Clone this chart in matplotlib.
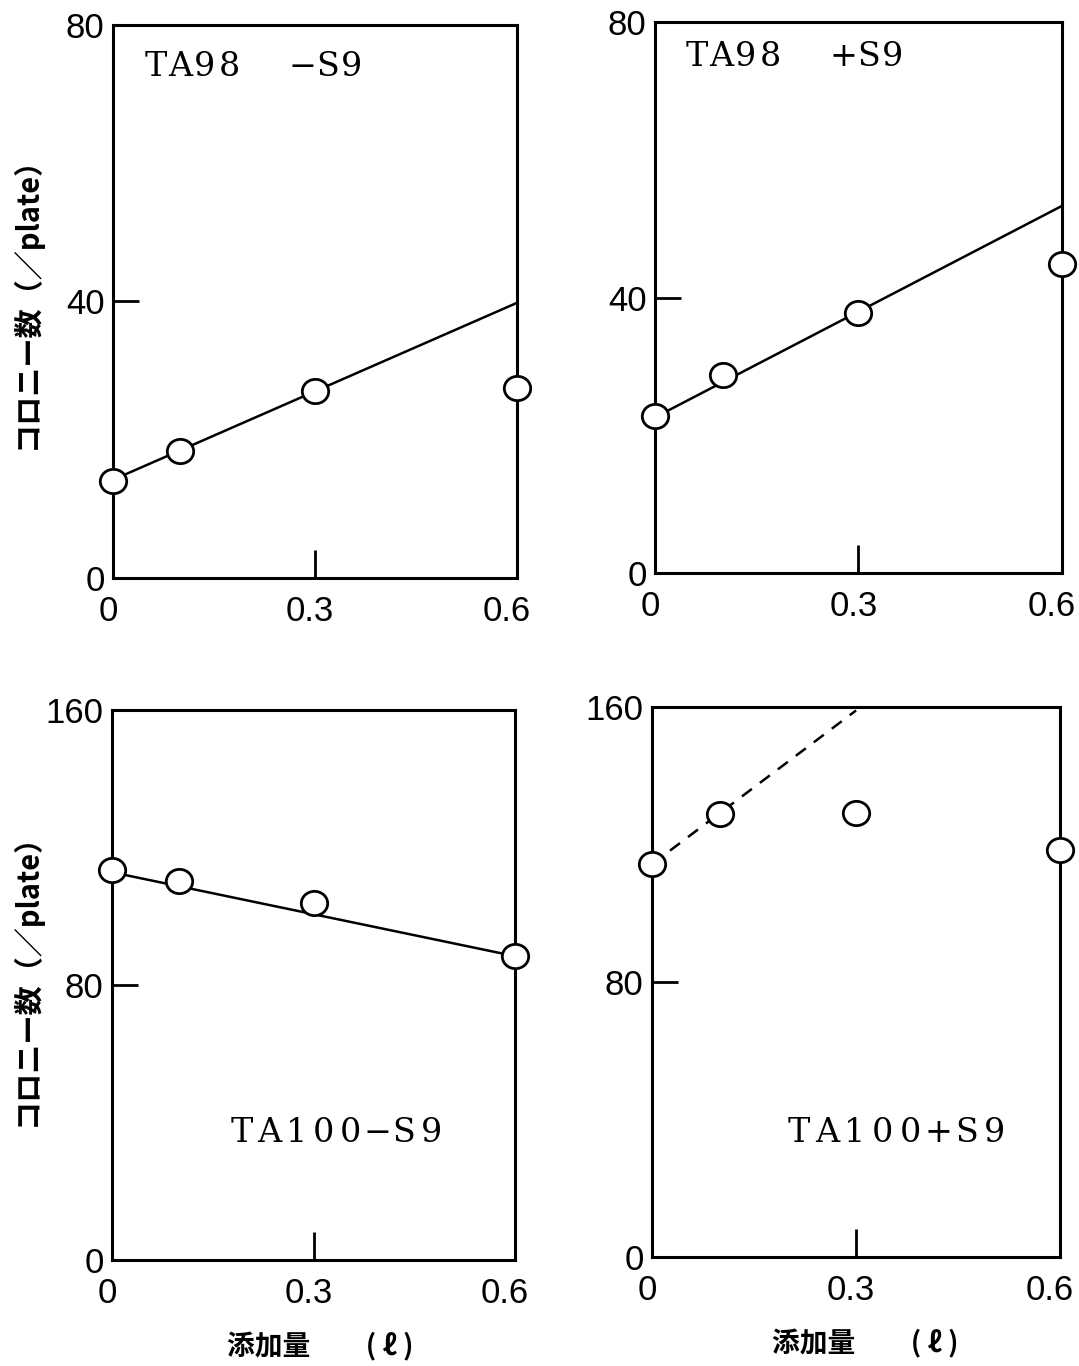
import matplotlib
matplotlib.use('Agg')
import matplotlib.pyplot as plt
from matplotlib.path import Path
from matplotlib.transforms import Affine2D, ScaledTranslation, offset_copy

plt.rcParams['font.family'] = ['Noto Sans CJK JP', 'DejaVu Sans']

# dose added (x) and colony counts per plate
x_dose = [0.0, 0.1, 0.3, 0.6]
ta98_minus = [14.0, 18.4, 27.1, 27.5]
ta98_plus = [22.8, 28.7, 37.7, 44.8]
ta100_minus = [113.4, 110.2, 103.8, 88.4]
ta100_plus = [114.3, 128.9, 129.2, 118.4]

# fitted lines drawn in the figure
fit_x = [0.0, 0.6]
ta98_minus_fit = [14.2, 39.8]
ta98_plus_fit = [22.6, 53.3]
ta100_minus_fit = [112.8, 88.4]
ta100_plus_fit_x = [0.0, 0.3]
ta100_plus_fit = [114.3, 159.0]

x_ticks = [0, 0.3, 0.6]
x_ticklabels = ['0', '0.3', '0.6']
y_max_top = 80
y_max_bottom = 160

panel_names = ['TA98  −S9', 'TA98  +S9', 'TA100−S9', 'TA100+S9']

ylabel = 'コロニー数（／plate）'
xlabel = '添加量　　( ℓ )'

num_font = 'Liberation Sans'

# slightly flattened circle like the hand-drawn markers
ellipse = Affine2D().scale(1.0, 0.92).transform_path(Path.unit_circle())

fig = plt.figure(figsize=(10.79, 13.66), dpi=100)
fig.patch.set_facecolor('white')

positions = [
    [0.1047, 0.5769, 0.3744, 0.4048],
    [0.6070, 0.5805, 0.3772, 0.4034],
    [0.1038, 0.0776, 0.3735, 0.4026],
    [0.6043, 0.0798, 0.3781, 0.4026],
]
# first character centre (axes fraction) and character pitch in pixels
text_pos = [(0.106, 0.924, 24.5), (0.103, 0.936, 24.5), (0.323, 0.231, 27.0), (0.360, 0.225, 28.0)]


def setup_axis(ax, ymax):
    ax.set_xlim(0, 0.6)
    ax.set_ylim(0, ymax)
    for s in ax.spines.values():
        s.set_linewidth(2.2)
        s.set_color('black')
    ax.set_xticks(x_ticks)
    ax.set_xticklabels(x_ticklabels)
    ax.set_yticks([0, ymax / 2, ymax])
    ax.set_yticklabels([str(0), str(int(ymax / 2)), str(ymax)])
    ax.tick_params(axis='x', direction='in', length=20, width=2, pad=12,
                   labelsize=25, top=False)
    ax.tick_params(axis='y', direction='in', length=19, width=2, pad=6,
                   labelsize=25, right=False)
    left = ScaledTranslation(-5 / 100, 0, fig.dpi_scale_trans)
    last = ScaledTranslation(14 / 100, 0, fig.dpi_scale_trans)
    xlabs = ax.get_xticklabels()
    for lab in xlabs:
        lab.set_family(num_font)
    for lab in xlabs[:-1]:
        lab.set_transform(lab.get_transform() + left)
    xlabs[-1].set_horizontalalignment('right')
    xlabs[-1].set_transform(xlabs[-1].get_transform() + last)
    for lab in ax.get_yticklabels():
        lab.set_family(num_font)


def draw_points(ax, y):
    ax.plot(x_dose, y, linestyle='none', marker=ellipse, markersize=19,
            markerfacecolor='white', markeredgecolor='black',
            markeredgewidth=2.0, clip_on=False, zorder=5)


def draw_name(ax, s, tx, ty, pitch):
    for i, ch in enumerate(s):
        tr = offset_copy(ax.transAxes, fig=fig, x=i * pitch, y=0, units='dots')
        ax.text(tx, ty, ch, transform=tr, ha='center', va='center',
                fontsize=24, family='DejaVu Serif')


axes = [fig.add_axes(p) for p in positions]

setup_axis(axes[0], y_max_top)
axes[0].plot(fit_x, ta98_minus_fit, color='black', lw=1.8, zorder=3)
draw_points(axes[0], ta98_minus)

setup_axis(axes[1], y_max_top)
axes[1].plot(fit_x, ta98_plus_fit, color='black', lw=1.8, zorder=3)
draw_points(axes[1], ta98_plus)

setup_axis(axes[2], y_max_bottom)
axes[2].plot(fit_x, ta100_minus_fit, color='black', lw=1.8, zorder=3)
draw_points(axes[2], ta100_minus)

setup_axis(axes[3], y_max_bottom)
axes[3].plot(ta100_plus_fit_x, ta100_plus_fit, color='black', lw=1.8,
             linestyle=(0, (5, 4)), zorder=3)
draw_points(axes[3], ta100_plus)

for ax, name, (tx, ty, pitch) in zip(axes, panel_names, text_pos):
    draw_name(ax, name, tx, ty, pitch)

# y labels on the left column
for yc in [0.784, 0.288]:
    fig.text(0.024, yc, ylabel, rotation=90, ha='center', va='center',
             fontsize=21, fontweight='bold')

# x labels under the bottom row
for xc, yc in [(0.2966, 0.0140), (0.8017, 0.0160)]:
    fig.text(xc, yc, xlabel, ha='center', va='center', fontsize=20,
             fontweight='bold')

fig.savefig('out.png', dpi=100)
